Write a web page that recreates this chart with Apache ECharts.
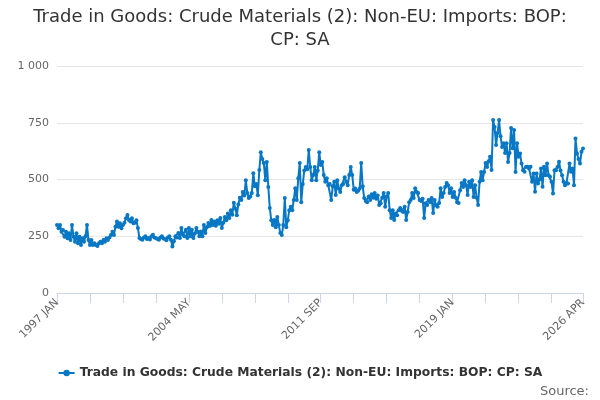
<!DOCTYPE html>
<html lang="en" style="height: 100%">
   <head>
      <meta charset="utf-8">
   </head>
   <body style="height: 100%; margin: 0">
      <div id="container" style="width: 600px; height: 400px"></div>
      <script type="text/javascript" src="https://cdn.jsdelivr.net/npm/echarts@6/dist/echarts.min.js"></script>
      <script type="text/javascript">
var seriesName = 'Trade in Goods: Crude Materials (2): Non-EU: Imports: BOP: CP: SA';
var monthNames = ['JAN', 'FEB', 'MAR', 'APR', 'MAY', 'JUN', 'JUL', 'AUG', 'SEP', 'OCT', 'NOV', 'DEC'];
var firstYear = 1997;
var yTicks = [0, 250, 500, 750, 1000];

// monthly values, one row per year, 1997 JAN .. 2026 APR
var values = [
  300, 285, 300, 270, 278, 248, 270, 241, 263, 234, 300, 248,
  226, 263, 219, 248, 212, 241, 226, 250, 300, 234, 212, 234,
  212, 219, 212, 207, 219, 226, 219, 234, 226, 241, 234, 245,
  256, 270, 256, 292, 315, 292, 307, 285, 300, 310, 329, 344,
  322, 315, 329, 307, 310, 321, 286, 242, 238, 235, 245, 250,
  238, 242, 236, 250, 257, 245, 242, 238, 235, 244, 250, 240,
  238, 232, 245, 250, 235, 205, 228, 250, 245, 264, 242, 286,
  258, 250, 279, 242, 286, 250, 279, 242, 262, 286, 270, 250,
  271, 250, 300, 264, 290, 308, 295, 322, 300, 315, 296, 320,
  305, 330, 286, 310, 335, 320, 350, 330, 365, 345, 398, 372,
  343, 390, 420, 410, 445, 430, 497, 440, 418, 425, 440, 528,
  470, 480, 431, 542, 620, 590, 573, 497, 577, 467, 374, 320,
  300, 322, 290, 335, 300, 264, 255, 300, 418, 290, 320, 365,
  380, 365, 410, 462, 410, 506, 573, 400, 480, 540, 555, 545,
  630, 555, 497, 520, 555, 497, 540, 620, 564, 577, 520, 490,
  506, 475, 480, 410, 470, 490, 432, 497, 460, 445, 475, 480,
  510, 490, 475, 520, 555, 520, 455, 460, 445, 450, 460, 573,
  470, 418, 405, 400, 425, 410, 435, 420, 440, 415, 430, 388,
  395, 420, 440, 380, 425, 440, 365, 330, 365, 322, 350, 343,
  365, 374, 362, 357, 380, 322, 357, 400, 410, 440, 418, 462,
  445, 440, 410, 405, 415, 330, 395, 388, 410, 400, 418, 352,
  410, 385, 380, 396, 462, 423, 440, 467, 485, 475, 440, 462,
  423, 445, 420, 400, 397, 453, 485, 467, 497, 475, 432, 490,
  467, 497, 423, 475, 420, 388, 490, 533, 497, 533, 573, 555,
  580, 600, 542, 762, 731, 652, 705, 762, 690, 643, 660, 617,
  660, 577, 617, 727, 638, 718, 533, 660, 600, 615, 570, 541,
  534, 556, 556, 548, 556, 490, 526, 446, 526, 482, 500, 549,
  468, 556, 519, 570, 519, 512, 490, 438, 541, 541, 555, 578,
  540, 519, 490, 475, 485, 482, 570, 534, 549, 475, 681, 615,
  590, 570, 622, 637
];

var categories = values.map(function (v, i) {
  return (firstYear + Math.floor(i / 12)) + ' ' + monthNames[i % 12];
});
var lastIdx = categories.length - 1;

var dom = document.getElementById('container');
var myChart = echarts.init(dom, null, { renderer: 'canvas' });

var option = {
  animation: false,
  color: ['#0877c4'],
  textStyle: { fontFamily: 'DejaVu Sans' },
  title: [{
    text: 'Trade in Goods: Crude Materials (2): Non-EU: Imports: BOP:\nCP: SA',
    left: 'center',
    top: 6,
    padding: 0,
    textStyle: {
      color: '#333',
      fontSize: 18,
      fontWeight: 'normal',
      lineHeight: 23,
      fontFamily: 'DejaVu Sans'
    }
  }, {
    text: 'Source:',
    right: 11,
    bottom: 2,
    padding: 0,
    textStyle: {
      color: '#666',
      fontSize: 13,
      fontWeight: 'normal',
      fontFamily: 'DejaVu Sans'
    }
  }],
  legend: {
    bottom: 16,
    left: 'center',
    itemWidth: 16,
    itemHeight: 8,
    itemGap: 6,
    textStyle: {
      color: '#333',
      fontSize: 12.3,
      fontWeight: 'bold',
      fontFamily: 'DejaVu Sans'
    },
    data: [seriesName]
  },
  grid: {
    left: 57,
    right: 17,
    top: 66,
    bottom: 107
  },
  xAxis: {
    type: 'category',
    data: categories,
    boundaryGap: false,
    axisLine: { lineStyle: { color: '#ccd6eb' } },
    axisTick: {
      length: 10,
      lineStyle: { color: '#ccd6eb' },
      interval: function (idx) { return idx % 22 === 0 || idx === lastIdx; }
    },
    axisLabel: {
      rotate: 45,
      color: '#666',
      fontSize: 11,
      interval: function (idx) { return idx % 88 === 0 || idx === lastIdx; }
    }
  },
  yAxis: {
    type: 'value',
    min: yTicks[0],
    max: yTicks[yTicks.length - 1],
    interval: 250,
    axisLine: { show: false },
    axisTick: { show: false },
    splitLine: { lineStyle: { color: '#e6e6e6' } },
    axisLabel: {
      color: '#666',
      fontSize: 11,
      margin: 8,
      formatter: function (v) {
        return String(v).replace(/\B(?=(\d{3})+(?!\d))/g, ' ');
      }
    }
  },
  series: [{
    name: seriesName,
    type: 'line',
    data: values,
    symbol: 'circle',
    symbolSize: 4,
    showAllSymbol: true,
    lineStyle: { width: 2 }
  }]
};

myChart.setOption(option);
window.addEventListener('resize', myChart.resize);
      </script>
   </body>
</html>
